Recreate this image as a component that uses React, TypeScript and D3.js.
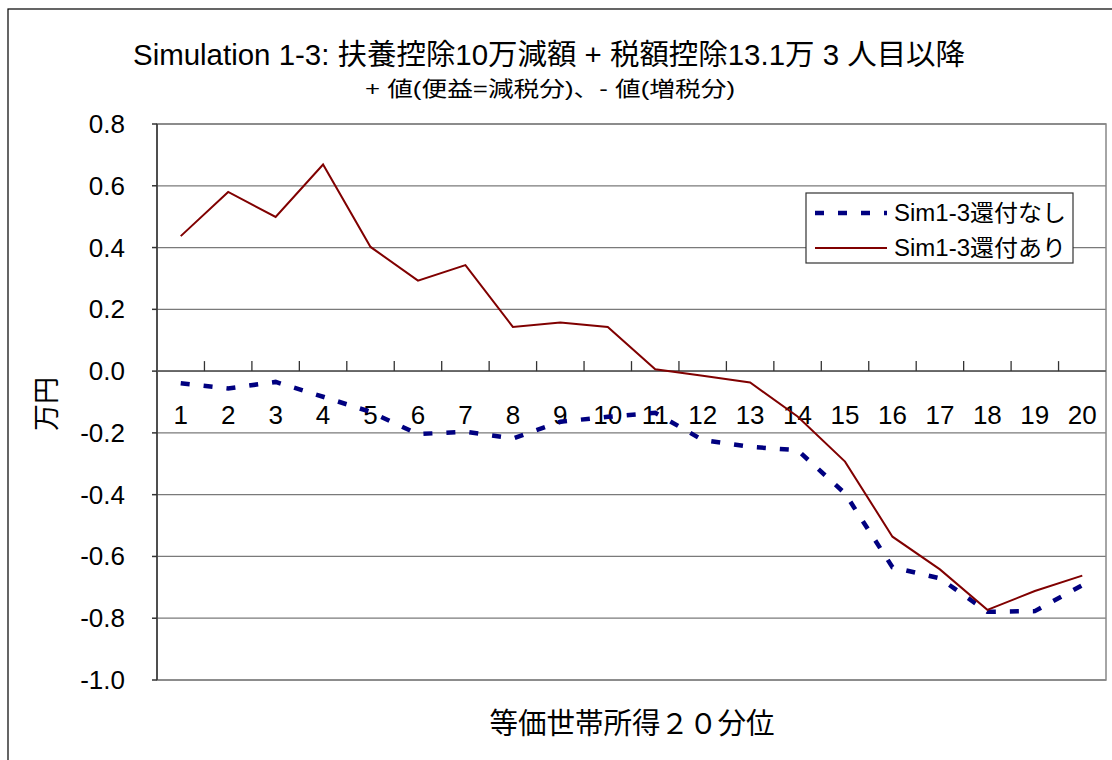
import React from 'react';
import * as d3 from 'd3';

// 等価世帯所得20分位
const categories = d3.range(1, 21).map(String);

// Sim1-3還付なし (万円)
const noRefund = [
  -0.039, -0.056, -0.035, -0.083, -0.132, -0.204, -0.196, -0.218, -0.164, -0.148,
  -0.135, -0.223, -0.245, -0.256, -0.396, -0.635, -0.671, -0.779, -0.777, -0.693,
];

// Sim1-3還付あり (万円)
const withRefund = [
  0.437, 0.58, 0.499, 0.669, 0.402, 0.293, 0.343, 0.143, 0.157, 0.143,
  0.006, -0.015, -0.037, -0.147, -0.293, -0.536, -0.642, -0.773, -0.712, -0.662,
];

const yTicks = [0.8, 0.6, 0.4, 0.2, 0.0, -0.2, -0.4, -0.6, -0.8, -1.0];

const seriesNames = ['Sim1-3還付なし', 'Sim1-3還付あり'];

const W = 1112;
const H = 760;
const FONT = '"Liberation Sans", Arial, "Noto Sans CJK JP", sans-serif';

export default function App() {
  const margin = { top: 124, right: 6, bottom: 80, left: 157 };
  const x = d3.scaleBand<string>().domain(categories).range([margin.left, W - margin.right]);
  const y = d3.scaleLinear().domain([-1, 0.8]).range([H - margin.bottom, margin.top]);
  const cx = (c: string) => (x(c) as number) + x.bandwidth() / 2;

  const line = d3
    .line<number>()
    .x((_, i) => cx(categories[i]))
    .y((d) => y(d));

  const x0 = margin.left;
  const x1 = W - margin.right;
  const zeroY = y(0);

  return (
    <svg
      width={W}
      height={H}
      style={{ position: 'absolute', left: 0, top: 0, background: '#fff' }}
      fontFamily={FONT}
    >
      {/* chart frame */}
      <rect x={8} y={9} width={W + 20} height={H + 20} fill="#fff" stroke="#000" strokeWidth={1.2} />

      {/* title (condensed, as in the original) */}
      <text x={549} y={65} textAnchor="middle" fontSize={29} textLength={832} lengthAdjust="spacingAndGlyphs">
        Simulation 1-3: 扶養控除10万減額 + 税額控除13.1万 3 人目以降
      </text>
      <text x={550} y={96} textAnchor="middle" fontSize={21} textLength={370} lengthAdjust="spacingAndGlyphs">
        + 値(便益=減税分)、- 値(増税分)
      </text>

      {/* gridlines */}
      {yTicks.map((t) => (
        <line key={t} x1={x0} x2={x1} y1={y(t)} y2={y(t)} stroke="#7a7a7a" strokeWidth={1.3} />
      ))}

      {/* plot border */}
      <rect
        x={x0}
        y={margin.top}
        width={x1 - x0}
        height={y(-1) - margin.top}
        fill="none"
        stroke="#888"
        strokeWidth={1.5}
      />
      <line x1={x0} x2={x0} y1={margin.top} y2={y(-1)} stroke="#333" strokeWidth={1.5} />

      {/* y ticks */}
      {yTicks.map((t) => (
        <g key={'yt' + t}>
          <line x1={x0 - 5} x2={x0} y1={y(t)} y2={y(t)} stroke="#333" strokeWidth={1.5} />
          <text x={125} y={y(t) + 9} textAnchor="end" fontSize={26}>
            {t.toFixed(1)}
          </text>
        </g>
      ))}

      {/* x axis on zero line */}
      <line x1={x0} x2={x1} y1={zeroY} y2={zeroY} stroke="#555" strokeWidth={1.5} />
      {categories.map((c, i) =>
        i === 0 ? null : (
          <line key={'xt' + c} x1={x(c)} x2={x(c)} y1={zeroY - 10} y2={zeroY} stroke="#333" strokeWidth={1.3} />
        )
      )}
      {categories.map((c) => (
        <text key={'xl' + c} x={cx(c)} y={zeroY + 53} textAnchor="middle" fontSize={26}>
          {c}
        </text>
      ))}

      {/* series */}
      <path d={line(noRefund) || ''} fill="none" stroke="#000080" strokeWidth={4.5} strokeDasharray="9 14" />
      <path d={line(withRefund) || ''} fill="none" stroke="#800000" strokeWidth={2} />

      {/* axis titles */}
      <text transform={`translate(56, 404) rotate(-90)`} textAnchor="middle" fontSize={27}>
        万円
      </text>
      <text x={632} y={734} textAnchor="middle" fontSize={29} textLength={285} lengthAdjust="spacingAndGlyphs">
        等価世帯所得２０分位
      </text>

      {/* legend */}
      <rect x={806} y={193} width={267} height={70} fill="#fff" stroke="#333" strokeWidth={1.2} />
      <line x1={815} x2={887} y1={213} y2={213} stroke="#000080" strokeWidth={4.5} strokeDasharray="9 14" />
      <line x1={815} x2={887} y1={248} y2={248} stroke="#800000" strokeWidth={2} />
      <text x={894} y={221} fontSize={23} textLength={172} lengthAdjust="spacingAndGlyphs">
        {seriesNames[0]}
      </text>
      <text x={894} y={256} fontSize={23} textLength={172} lengthAdjust="spacingAndGlyphs">
        {seriesNames[1]}
      </text>
    </svg>
  );
}
